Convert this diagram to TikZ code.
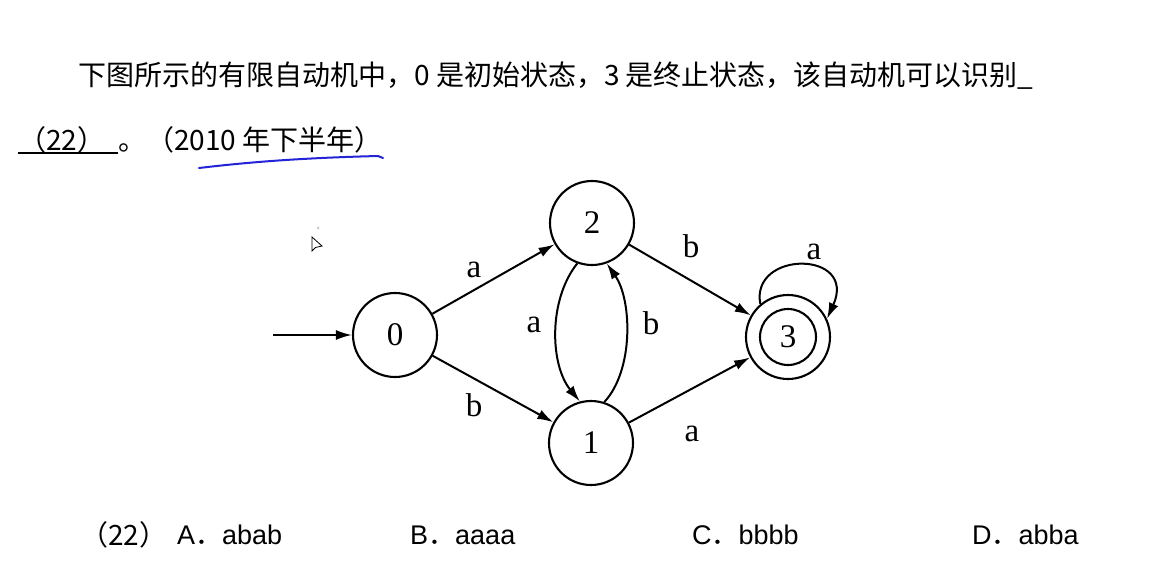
\documentclass[tikz,border=0pt]{standalone}
\usepackage{fontspec}
\setmainfont{Liberation Serif}
\newfontfamily\cjk{Noto Sans CJK SC}
\newfontfamily\arialf{Liberation Sans}
\usetikzlibrary{arrows.meta}
\definecolor{pen}{RGB}{35,35,215}
\begin{document}
\begin{tikzpicture}[x=1pt,y=-1pt,
  state/.style={draw, circle, line width=2.1pt, minimum size=84pt, inner sep=0pt, font=\fontsize{33}{33}\selectfont},
  edge/.style={draw, line width=2pt, -{Latex[length=16pt,width=10pt]}},
  lbl/.style={font=\fontsize{33}{33}\selectfont, inner sep=0pt},
  txt/.style={font=\cjk\fontsize{28}{28}\selectfont, inner sep=0pt, anchor=west},
  opt/.style={font=\arialf\fontsize{27}{27}\selectfont, inner sep=0pt, anchor=west},
]
\useasboundingbox[fill=white] (0,0) rectangle (1159,573);

% question text
\node[txt] (l1) at (78,76) {下图所示的有限自动机中，0 是初始状态，3 是终止状态，该自动机可以识别\_};
\node[txt] (l2a) at (18,140) {（22）};
\draw[line width=1.8pt] (18,153) -- (118,153);
\node[txt] (l2b) at (118,140) {。（2010 年下半年）};
\draw[pen, line width=2pt, line cap=round] (199,168) .. controls (250,162) and (300,158) .. (378,156) -- (383,158);

% mouse cursor
\fill[gray!40] (318,228) circle (1.5pt);
\draw[line width=0.8pt, fill=white] (312,237) -- (312,251) -- (315.5,247.5) -- (322,246) -- cycle;

% states
\node[state] (n0) at (395,335) {0};
\node[state] (n2) at (592,223) {2};
\node[state] (n1) at (591,443) {1};
\node[state] (n3) at (788,337) {};
\node[state, minimum size=56pt] (n3i) at (788,337) {3};

\coordinate (start) at (273,335);
\draw[edge] (start) -- (n0);
\draw[edge] (n0) -- (n2);
\draw[edge] (n0) -- (n1);
\draw[edge] (n2) -- (n3);
\draw[edge] (n1) -- (n3);
\draw[edge] (n2.250) .. controls (548,300) and (550,365) .. (n1.105);
\draw[edge] (n1.72) .. controls (634,370) and (632,300) .. (n2.290);
\draw[edge] (n3.130) .. controls (750,250) and (858,250) .. (n3.25);

% labels
\node[lbl] (la02) at (474,270) {a};
\node[lbl] (lb01) at (474,405) {b};
\node[lbl] (la21) at (534,325) {a};
\node[lbl] (lb12) at (651,323) {b};
\node[lbl] (lb23) at (691,246) {b};
\node[lbl] (la13) at (692,434) {a};
\node[lbl] (la33) at (814,252) {a};

% options
\node[txt] (q) at (80,535) {（22）};
\node[opt] (oa) at (177,535) {A{\cjk ．}abab};
\node[opt] (ob) at (410,535) {B{\cjk ．}aaaa};
\node[opt] (oc) at (692,535) {C{\cjk ．}bbbb};
\node[opt] (od) at (972,535) {D{\cjk ．}abba};
\end{tikzpicture}
\end{document}
